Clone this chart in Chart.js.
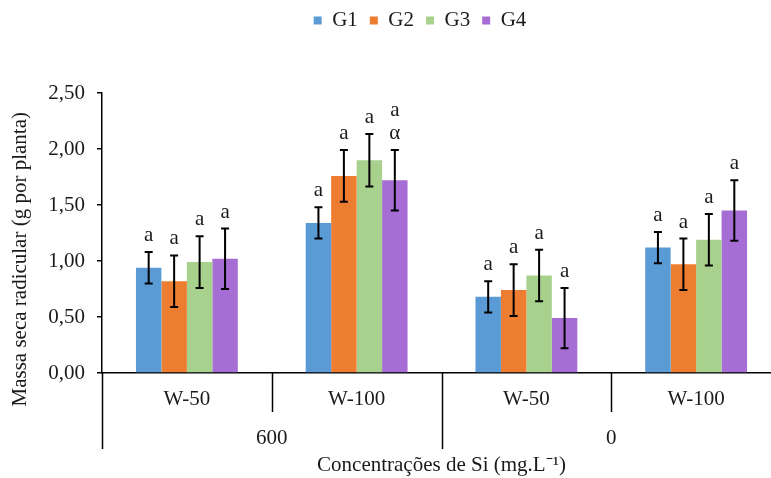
<!DOCTYPE html>
<html>
<head>
<meta charset="utf-8">
<script src="https://cdn.jsdelivr.net/npm/chart.js@4.4.1/dist/chart.umd.min.js"></script>
<style>
  html, body { margin: 0; padding: 0; background: #fff; overflow: hidden; }
  #wrap { width: 771px; height: 478px; overflow: hidden; }
</style>
</head>
<body>
<div id="wrap"><canvas id="massaChart" width="840" height="478"></canvas></div>
<script>
// data
var categories = ["W-50", "W-100", "W-50", "W-100"];
var groups = ["600", "0"];
var seriesNames = ["G1", "G2", "G3", "G4"];

var g1 = [0.94, 1.34, 0.68, 1.12];
var g2 = [0.82, 1.76, 0.74, 0.97];
var g3 = [0.99, 1.90, 0.87, 1.19];
var g4 = [1.02, 1.72, 0.49, 1.45];

var g1Err = [0.14, 0.14, 0.14, 0.14];
var g2Err = [0.23, 0.23, 0.23, 0.23];
var g3Err = [0.23, 0.235, 0.23, 0.23];
var g4Err = [0.27, 0.27, 0.27, 0.27];

var g1Letters = ["a", "a", "a", "a"];
var g2Letters = ["a", "a", "a", "a"];
var g3Letters = ["a", "a", "a", "a"];
var g4Letters = ["a", ["a", "\u03b1"], "a", "a"];

var colors = ["#5B9BD5", "#ED7D31", "#A9D18E", "#A66ED4"];

var FONT = "'Liberation Serif', 'Times New Roman', serif";
var FS = 21;
var PLOT_TOP = 93;

// error bars + letters above them
var errorBarPlugin = {
     id: 'errorBars',
     afterDatasetsDraw: function (chart) {
          var ctx = chart.ctx;
          var yScale = chart.scales.y;
          ctx.save();
          chart.data.datasets.forEach(function (ds, i) {
               var meta = chart.getDatasetMeta(i);
               meta.data.forEach(function (bar, j) {
                    var v = ds.data[j], e = ds.errors[j];
                    var yTop = yScale.getPixelForValue(v + e);
                    var yBot = yScale.getPixelForValue(v - e);
                    ctx.strokeStyle = '#000';
                    ctx.lineWidth = 2;
                    ctx.beginPath();
                    ctx.moveTo(bar.x, yTop); ctx.lineTo(bar.x, yBot);
                    ctx.moveTo(bar.x - 4, yTop); ctx.lineTo(bar.x + 4, yTop);
                    ctx.moveTo(bar.x - 4, yBot); ctx.lineTo(bar.x + 4, yBot);
                    ctx.stroke();

                    var lab = ds.letters[j];
                    var lines = Array.isArray(lab) ? lab : [lab];
                    ctx.fillStyle = '#1a1a1a';
                    ctx.font = FS + 'px ' + FONT;
                    ctx.textAlign = 'center';
                    ctx.textBaseline = 'alphabetic';
                    for (var k = lines.length - 1, n = 0; k >= 0; k--, n++) {
                         ctx.fillText(lines[k], bar.x, yTop - 11 - n * 23);
                    }
               });
          });
          ctx.restore();
     }
};

// category separators and the second level of the x axis
var groupAxisPlugin = {
     id: 'groupAxis',
     afterDraw: function (chart) {
          var ctx = chart.ctx;
          var x = chart.scales.x;
          var area = chart.chartArea;
          var step = (area.right - area.left) / categories.length;
          var base = x.top;
          ctx.save();
          ctx.strokeStyle = '#000';
          ctx.lineWidth = 1.5;
          for (var i = 0; i <= categories.length; i++) {
               var px = Math.round(area.left + i * step) + 0.5;
               var len = (i % 2 === 0) ? 76 : 39;
               ctx.beginPath();
               ctx.moveTo(px, base);
               ctx.lineTo(px, base + len);
               ctx.stroke();
          }
          ctx.fillStyle = '#1a1a1a';
          ctx.font = FS + 'px ' + FONT;
          ctx.textAlign = 'center';
          ctx.textBaseline = 'middle';
          groups.forEach(function (g, k) {
               var cx = (x.getPixelForValue(2 * k) + x.getPixelForValue(2 * k + 1)) / 2;
               ctx.fillText(g, cx, base + 65);
          });
          ctx.restore();
     }
};

function createMassaChart() {
     var canvas = document.getElementById('massaChart').getContext('2d');
     var seriesData = [g1, g2, g3, g4];
     var seriesErr = [g1Err, g2Err, g3Err, g4Err];
     var seriesLetters = [g1Letters, g2Letters, g3Letters, g4Letters];

     window.massaChart = new Chart(canvas, {
          type: 'bar',
          data: {
               labels: categories,
               datasets: seriesNames.map(function (name, i) {
                    return {
                         label: name,
                         data: seriesData[i],
                         errors: seriesErr[i],
                         letters: seriesLetters[i],
                         backgroundColor: colors[i],
                         borderWidth: 0,
                         categoryPercentage: 0.6,
                         barPercentage: 1.0
                    };
               })
          },
          options: {
               responsive: false,
               animation: false,
               devicePixelRatio: 1,
               layout: { padding: { top: -2, left: 0, right: 0, bottom: 0 } },
               plugins: {
                    legend: {
                         position: 'top',
                         labels: {
                              boxWidth: 8,
                              boxHeight: 8,
                              padding: 12,
                              color: '#1a1a1a',
                              font: { family: FONT, size: FS }
                         }
                    },
                    tooltip: { enabled: false }
               },
               scales: {
                    x: {
                         grid: { display: false, drawTicks: false },
                         border: { display: true, color: '#000', width: 1.5 },
                         ticks: { color: '#1a1a1a', padding: 14, font: { family: FONT, size: FS } },
                         title: {
                              display: true,
                              text: 'Concentrações de Si (mg.L\u207B\u00B9)',
                              color: '#1a1a1a',
                              padding: { top: 0, bottom: 0 },
                              font: { family: FONT, size: FS }
                         },
                         afterFit: function (s) { s.height = 105; }
                    },
                    xTop: {
                         position: 'top',
                         type: 'category',
                         grid: { display: false, drawTicks: false },
                         border: { display: false },
                         ticks: { display: false },
                         afterFit: function (s) {
                              s.height = Math.max(0, PLOT_TOP - s.chart.legend.height + 2);
                         }
                    },
                    y: {
                         min: 0,
                         max: 2.5,
                         grid: { drawOnChartArea: false, drawTicks: true, tickLength: 5, color: '#000', lineWidth: 1.5 },
                         border: { display: true, color: '#000', width: 1.5 },
                         ticks: {
                              stepSize: 0.5,
                              padding: 12,
                              color: '#1a1a1a',
                              font: { family: FONT, size: FS },
                              callback: function (v) { return v.toFixed(2).replace('.', ','); }
                         },
                         title: {
                              display: true,
                              text: 'Massa seca radicular (g por planta)' + ' '.repeat(10),
                              color: '#1a1a1a',
                              padding: { top: 8, bottom: 0 },
                              font: { family: FONT, size: FS }
                         },
                         afterFit: function (s) { s.width = 102; }
                    },
                    yRight: {
                         position: 'right',
                         type: 'linear',
                         grid: { display: false, drawTicks: false },
                         border: { display: false },
                         ticks: { display: false },
                         afterFit: function (s) { s.width = 59; }
                    }
               }
          },
          plugins: [errorBarPlugin, groupAxisPlugin]
     });
}

document.addEventListener('DOMContentLoaded', function () {
     createMassaChart();
});
</script>
</body>
</html>
